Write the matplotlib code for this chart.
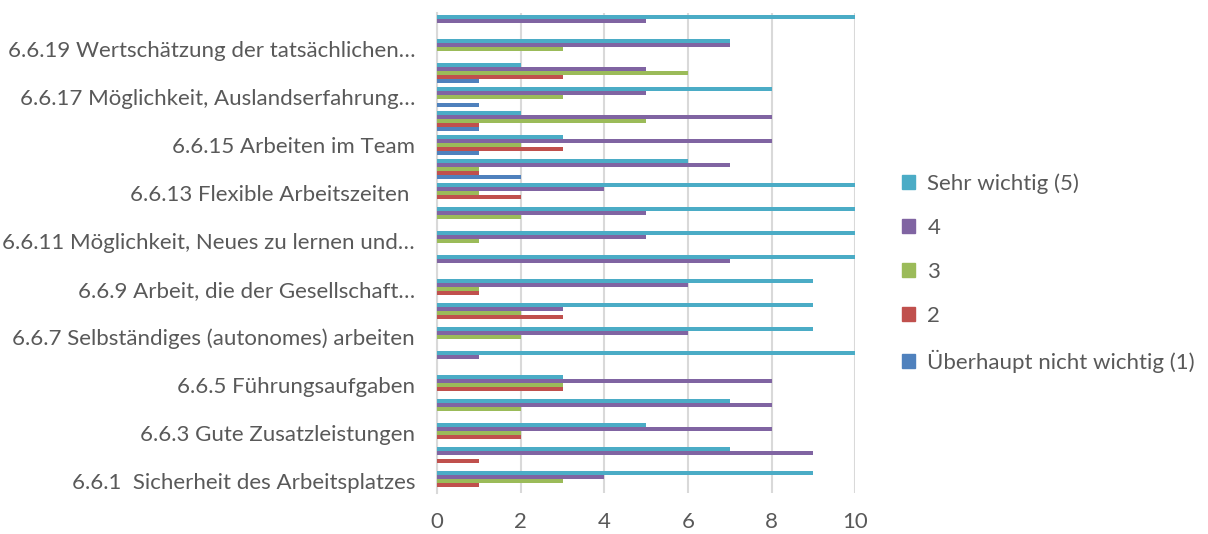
import numpy as np
import matplotlib
matplotlib.use("Agg")
import matplotlib.pyplot as plt
from matplotlib.patches import Patch

plt.rcParams['font.family'] = ['Lato', 'DejaVu Sans']

# categories 6.6.1 .. 6.6.20 (only odd ones are labelled in the original)
categories = [
    '6.6.1  Sicherheit des Arbeitsplatzes', '',
    '6.6.3 Gute Zusatzleistungen', '',
    '6.6.5 Führungsaufgaben', '',
    '6.6.7 Selbständiges (autonomes) arbeiten', '',
    '6.6.9 Arbeit, die der Gesellschaft…', '',
    '6.6.11 Möglichkeit, Neues zu lernen und…', '',
    '6.6.13 Flexible Arbeitszeiten ', '',
    '6.6.15 Arbeiten im Team', '',
    '6.6.17 Möglichkeit, Auslandserfahrung…', '',
    '6.6.19 Wertschätzung der tatsächlichen…', '',
]

series_names = ['Überhaupt nicht wichtig (1)', '2', '3', '4', 'Sehr wichtig (5)']
colors = ['#4F81BD', '#C0504D', '#9BBB59', '#8064A2', '#4BACC6']

v1 = [0, 0, 0, 0, 0, 0, 0, 0, 0, 0, 0, 0, 0, 2, 1, 1, 1, 1, 0, 0]
v2 = [1, 1, 2, 0, 3, 0, 0, 3, 1, 0, 0, 0, 2, 1, 3, 1, 0, 3, 0, 0]
v3 = [3, 0, 2, 2, 3, 0, 2, 2, 1, 0, 1, 2, 1, 1, 2, 5, 3, 6, 3, 0]
v4 = [4, 9, 8, 8, 8, 1, 6, 3, 6, 7, 5, 5, 4, 7, 8, 8, 5, 5, 7, 5]
v5 = [9, 7, 5, 7, 3, 10, 9, 9, 9, 10, 10, 10, 10, 6, 3, 2, 8, 2, 7, 10]
values = [v1, v2, v3, v4, v5]

fig = plt.figure(figsize=(12.08, 5.34), dpi=100)
ax = fig.add_axes([0.362, 0.0768, 0.346, 0.8989])

y = np.arange(len(categories))
h = 0.16
for i, (vals, c) in enumerate(zip(values, colors)):
    ax.barh(y + (i - 2) * h, vals, height=h, color=c, zorder=3)

ax.set_xlim(0, 10)
ax.set_ylim(-0.5, len(categories) - 0.5)
ax.set_xticks(range(0, 11, 2))
ax.set_yticks(y)
ax.set_yticklabels(categories)
ax.tick_params(axis='both', length=0, labelsize=16, colors='#595959')
ax.tick_params(axis='y', pad=16)
ax.tick_params(axis='x', pad=14)
ax.grid(axis='x', color='#d9d9d9', linewidth=1.5, zorder=0)
for s in ['top', 'right', 'bottom']:
    ax.spines[s].set_visible(False)
ax.spines['left'].set_color('#d9d9d9')
ax.spines['left'].set_linewidth(1.5)

handles = [Patch(color=colors[i]) for i in range(4, -1, -1)]
labels = [series_names[i] for i in range(4, -1, -1)]
fig.legend(handles, labels, loc='center left', bbox_to_anchor=(0.73, 0.489),
           frameon=False, fontsize=16, labelcolor='#595959',
           handlelength=0.6, handleheight=0.6, handletextpad=0.55,
           labelspacing=1.08)

fig.savefig('out.png', dpi=100)
